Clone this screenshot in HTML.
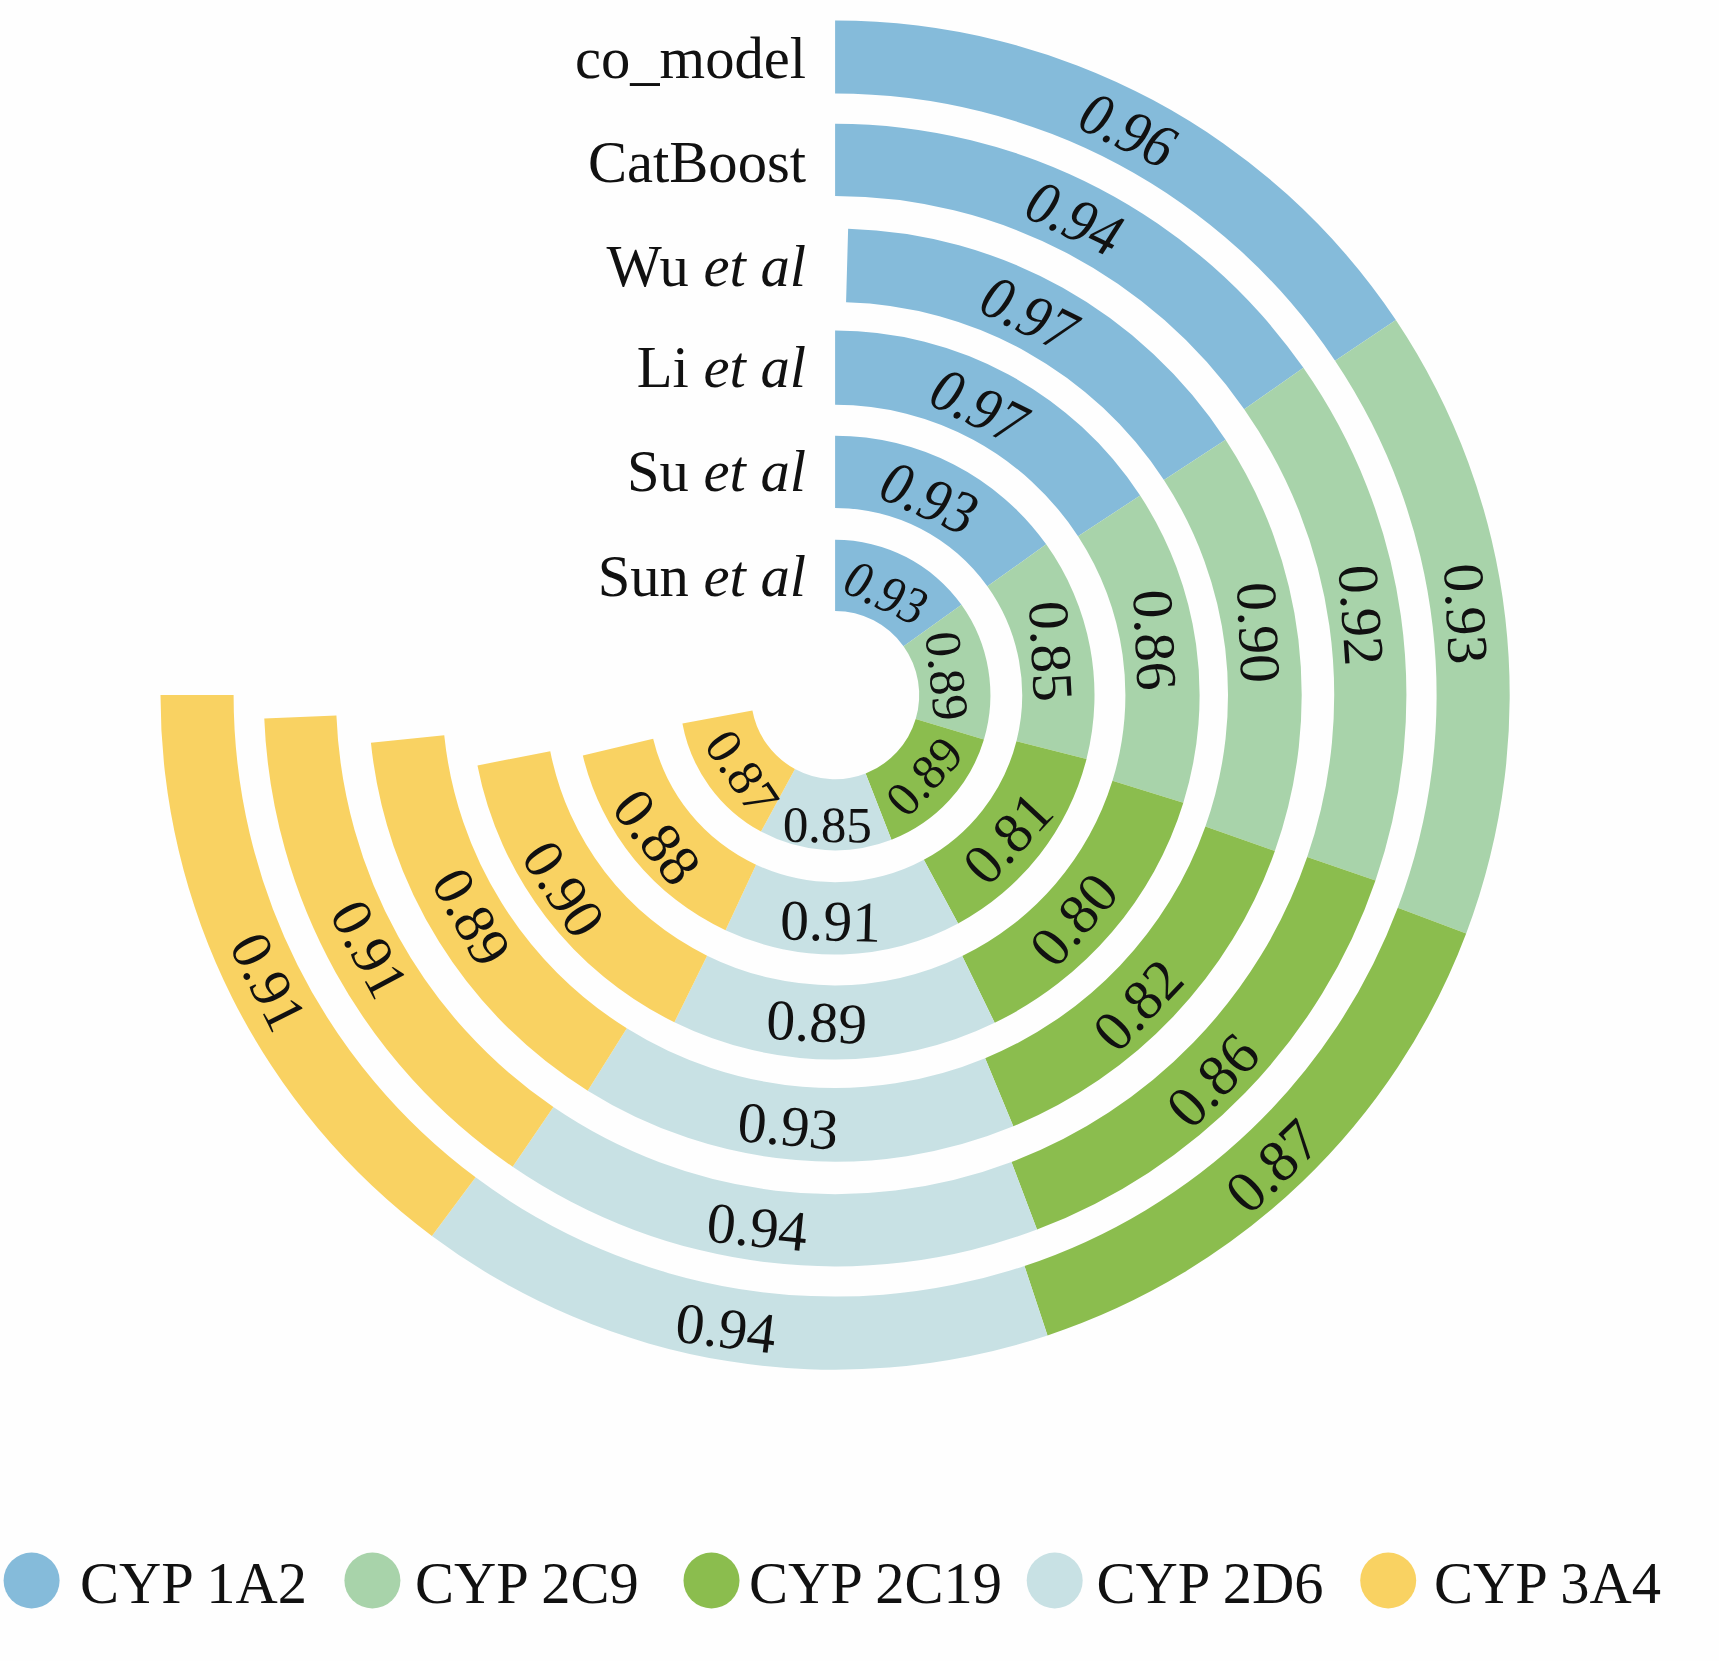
<!DOCTYPE html>
<html><head><meta charset="utf-8"><style>
html,body{margin:0;padding:0;background:#fefefe;width:1719px;height:1661px;overflow:hidden;position:relative}
svg{position:absolute;left:0;top:0}
text{font-family:"Liberation Serif",serif;fill:#111}
.vl{text-anchor:middle}
.lg{font-size:58.5px}
.rl{font-size:58.6px;text-anchor:end}
</style></head><body>
<svg width="1719" height="1661" viewBox="0 0 1719 1661">
<path d="M835.10,20.50A674.6,674.6 0 0 1 1395.85,320.07L1335.09,360.71A601.5,601.5 0 0 0 835.10,93.60Z" fill="#85bbda"/><path d="M1395.85,320.07A674.6,674.6 0 0 1 1466.17,933.49L1397.79,907.66A601.5,601.5 0 0 0 1335.09,360.71Z" fill="#a8d3aa"/><path d="M1466.17,933.49A674.6,674.6 0 0 1 1047.49,1335.39L1024.48,1266.01A601.5,601.5 0 0 0 1397.79,907.66Z" fill="#8bbd4e"/><path d="M1047.49,1335.39A674.6,674.6 0 0 1 431.92,1235.96L475.60,1177.35A601.5,601.5 0 0 0 1024.48,1266.01Z" fill="#c8e1e4"/><path d="M431.92,1235.96A674.6,674.6 0 0 1 160.50,695.10L233.60,695.10A601.5,601.5 0 0 0 475.60,1177.35Z" fill="#f9d262"/><path d="M835.10,123.80A571.3,571.3 0 0 1 1303.39,367.86L1244.21,409.22A499.1,499.1 0 0 0 835.10,196.00Z" fill="#85bbda"/><path d="M1303.39,367.86A571.3,571.3 0 0 1 1375.48,880.50L1307.19,857.07A499.1,499.1 0 0 0 1244.21,409.22Z" fill="#a8d3aa"/><path d="M1375.48,880.50A571.3,571.3 0 0 1 1036.99,1229.54L1011.47,1162.00A499.1,499.1 0 0 0 1307.19,857.07Z" fill="#8bbd4e"/><path d="M1036.99,1229.54A571.3,571.3 0 0 1 512.66,1166.71L553.41,1107.11A499.1,499.1 0 0 0 1011.47,1162.00Z" fill="#c8e1e4"/><path d="M512.66,1166.71A571.3,571.3 0 0 1 264.28,718.45L336.42,715.50A499.1,499.1 0 0 0 553.41,1107.11Z" fill="#f9d262"/><path d="M848.13,228.68A466.6,466.6 0 0 1 1225.58,439.68L1163.91,480.03A392.9,392.9 0 0 0 846.07,302.35Z" fill="#85bbda"/><path d="M1225.58,439.68A466.6,466.6 0 0 1 1274.87,851.03L1205.41,826.40A392.9,392.9 0 0 0 1163.91,480.03Z" fill="#a8d3aa"/><path d="M1274.87,851.03A466.6,466.6 0 0 1 1013.29,1126.33L985.15,1058.22A392.9,392.9 0 0 0 1205.41,826.40Z" fill="#8bbd4e"/><path d="M1013.29,1126.33A466.6,466.6 0 0 1 587.72,1090.72L626.79,1028.24A392.9,392.9 0 0 0 985.15,1058.22Z" fill="#c8e1e4"/><path d="M587.72,1090.72A466.6,466.6 0 0 1 370.94,742.71L444.25,735.19A392.9,392.9 0 0 0 626.79,1028.24Z" fill="#f9d262"/><path d="M835.10,330.60A364.5,364.5 0 0 1 1140.14,495.57L1078.04,536.19A290.3,290.3 0 0 0 835.10,404.80Z" fill="#85bbda"/><path d="M1140.14,495.57A364.5,364.5 0 0 1 1183.34,802.76L1112.45,780.85A290.3,290.3 0 0 0 1078.04,536.19Z" fill="#a8d3aa"/><path d="M1183.34,802.76A364.5,364.5 0 0 1 994.69,1022.81L962.20,956.10A290.3,290.3 0 0 0 1112.45,780.85Z" fill="#8bbd4e"/><path d="M994.69,1022.81A364.5,364.5 0 0 1 674.40,1022.26L707.11,955.66A290.3,290.3 0 0 0 962.20,956.10Z" fill="#c8e1e4"/><path d="M674.40,1022.26A364.5,364.5 0 0 1 477.45,765.45L550.26,751.13A290.3,290.3 0 0 0 707.11,955.66Z" fill="#f9d262"/><path d="M835.10,435.70A259.4,259.4 0 0 1 1046.20,544.35L987.36,586.37A187.1,187.1 0 0 0 835.10,508.00Z" fill="#85bbda"/><path d="M1046.20,544.35A259.4,259.4 0 0 1 1086.52,758.96L1016.44,741.16A187.1,187.1 0 0 0 987.36,586.37Z" fill="#a8d3aa"/><path d="M1086.52,758.96A259.4,259.4 0 0 1 958.11,923.48L923.82,859.82A187.1,187.1 0 0 0 1016.44,741.16Z" fill="#8bbd4e"/><path d="M958.11,923.48A259.4,259.4 0 0 1 725.52,930.22L756.06,864.69A187.1,187.1 0 0 0 923.82,859.82Z" fill="#c8e1e4"/><path d="M725.52,930.22A259.4,259.4 0 0 1 582.84,755.53L653.15,738.68A187.1,187.1 0 0 0 756.06,864.69Z" fill="#f9d262"/><path d="M835.10,539.80A155.3,155.3 0 0 1 961.48,604.85L903.54,646.23A84.1,84.1 0 0 0 835.10,611.00Z" fill="#85bbda"/><path d="M961.48,604.85A155.3,155.3 0 0 1 983.93,739.45L915.70,719.12A84.1,84.1 0 0 0 903.54,646.23Z" fill="#a8d3aa"/><path d="M983.93,739.45A155.3,155.3 0 0 1 891.46,839.81L865.62,773.47A84.1,84.1 0 0 0 915.70,719.12Z" fill="#8bbd4e"/><path d="M891.46,839.81A155.3,155.3 0 0 1 760.99,831.58L794.97,769.01A84.1,84.1 0 0 0 865.62,773.47Z" fill="#c8e1e4"/><path d="M760.99,831.58A155.3,155.3 0 0 1 682.42,723.51L752.42,710.49A84.1,84.1 0 0 0 794.97,769.01Z" fill="#f9d262"/>
<text id="L00" class="vl" font-size="57.5" transform="translate(1128.7,129.7) rotate(26.1) skewX(-7.0) scale(0.97,1.07)" dy="0.34em">0.96</text><text id="L01" class="vl" font-size="57.5" transform="translate(1466.2,613.8) rotate(87.0)" dy="0.34em">0.93</text><text id="L02" class="vl" font-size="59.5" transform="translate(1272.5,1165.8) rotate(-43.8)" dy="0.34em">0.87</text><text id="L03" class="vl" font-size="57.5" transform="translate(726.1,1328.0) rotate(7.0)" dy="0.34em">0.94</text><text id="L04" class="vl" font-size="57.5" transform="translate(268.5,981.8) rotate(63.4)" dy="0.34em">0.91</text><text id="L10" class="vl" font-size="57.5" transform="translate(1075.2,218.0) rotate(25.5) skewX(-7.0) scale(0.97,1.07)" dy="0.34em">0.94</text><text id="L11" class="vl" font-size="57.5" transform="translate(1361.6,615.2) rotate(86.0)" dy="0.34em">0.92</text><text id="L12" class="vl" font-size="59" transform="translate(1212.4,1080.3) rotate(-45.9)" dy="0.34em">0.86</text><text id="L13" class="vl" font-size="57.5" transform="translate(757.3,1226.9) rotate(5.8)" dy="0.34em">0.94</text><text id="L14" class="vl" font-size="57.5" transform="translate(369.6,949.0) rotate(62.0)" dy="0.34em">0.91</text><text id="L20" class="vl" font-size="57.5" transform="translate(1029.7,313.7) rotate(26.4) skewX(-7.0) scale(0.97,1.07)" dy="0.34em">0.97</text><text id="L21" class="vl" font-size="57.5" transform="translate(1258.8,632.5) rotate(87.5)" dy="0.34em">0.90</text><text id="L22" class="vl" font-size="57.5" transform="translate(1137.6,1004.8) rotate(-46.5)" dy="0.34em">0.82</text><text id="L23" class="vl" font-size="57.5" transform="translate(788.2,1125.8) rotate(5.3)" dy="0.34em">0.93</text><text id="L24" class="vl" font-size="57.5" transform="translate(471.8,916.7) rotate(61.0)" dy="0.34em">0.89</text><text id="L30" class="vl" font-size="57.5" transform="translate(979.6,406.1) rotate(26.4) skewX(-7.0) scale(0.97,1.07)" dy="0.34em">0.97</text><text id="L31" class="vl" font-size="57.5" transform="translate(1155.0,640.0) rotate(87.5)" dy="0.34em">0.86</text><text id="L32" class="vl" font-size="57.5" transform="translate(1073.5,919.3) rotate(-49.4)" dy="0.34em">0.80</text><text id="L33" class="vl" font-size="57.5" transform="translate(816.7,1021.8) rotate(3.0)" dy="0.34em">0.89</text><text id="L34" class="vl" font-size="57.5" transform="translate(563.8,888.8) rotate(57.0)" dy="0.34em">0.90</text><text id="L40" class="vl" font-size="57.5" transform="translate(929.7,497.6) rotate(23.7) skewX(-7.0) scale(0.97,1.07)" dy="0.34em">0.93</text><text id="L41" class="vl" font-size="57.5" transform="translate(1051.1,651.2) rotate(87.0)" dy="0.34em">0.85</text><text id="L42" class="vl" font-size="57.5" transform="translate(1007.5,837.8) rotate(-47.0)" dy="0.34em">0.81</text><text id="L43" class="vl" font-size="57.5" transform="translate(830.6,921.0) rotate(1.5)" dy="0.34em">0.91</text><text id="L44" class="vl" font-size="58.5" transform="translate(657.1,836.8) rotate(52.0)" dy="0.34em">0.88</text><text id="L50" class="vl" font-size="49.5" transform="translate(886.4,592.4) rotate(25.2) skewX(-6.0) scale(0.97,1.07)" dy="0.34em">0.93</text><text id="L51" class="vl" font-size="51" transform="translate(947.2,675.8) rotate(84.0)" dy="0.34em">0.89</text><text id="L52" class="vl" font-size="49.5" transform="translate(924.0,776.3) rotate(-47.3)" dy="0.34em">0.89</text><text id="L53" class="vl" font-size="51" transform="translate(827.4,824.7) rotate(0.5)" dy="0.34em">0.85</text><text id="L54" class="vl" font-size="51" transform="translate(742.4,772.2) rotate(56.0)" dy="0.34em">0.87</text>
<circle cx="31.6" cy="1580.5" r="28" fill="#85bbda"/><text x="79.9" y="1602.7" class="lg">CYP 1A2</text><circle cx="372.4" cy="1580.5" r="28" fill="#a8d3aa"/><text x="415" y="1602.7" class="lg">CYP 2C9</text><circle cx="711.5" cy="1580.5" r="28" fill="#8bbd4e"/><text x="749" y="1602.7" class="lg">CYP 2C19</text><circle cx="1054.7" cy="1580.5" r="28" fill="#c8e1e4"/><text x="1096.4" y="1602.7" class="lg">CYP 2D6</text><circle cx="1388.2" cy="1580.5" r="28" fill="#f9d262"/><text x="1434.1" y="1602.7" class="lg">CYP 3A4</text>
<text class="rl" transform="translate(806,77.9) scale(1,1.02)">co_model</text><text class="rl" transform="translate(806,181.7) scale(1,1.02)">CatBoost</text><text class="rl" transform="translate(806,285.7) scale(1,1.02)">Wu <tspan font-style="italic">et al</tspan></text><text class="rl" transform="translate(806,387) scale(1,1.02)">Li <tspan font-style="italic">et al</tspan></text><text class="rl" transform="translate(806,491.4) scale(1,1.02)">Su <tspan font-style="italic">et al</tspan></text><text class="rl" transform="translate(806,595.5) scale(1,1.02)">Sun <tspan font-style="italic">et al</tspan></text>
</svg>
</body></html>
